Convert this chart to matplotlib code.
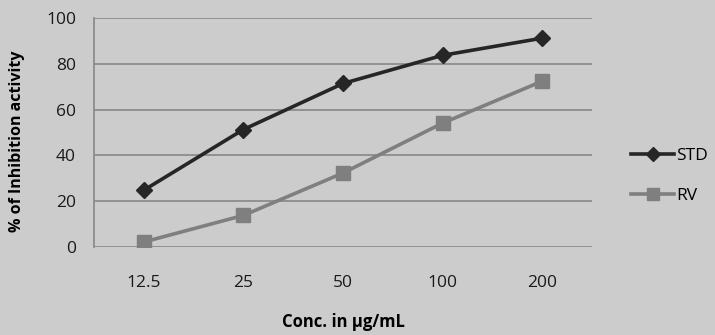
import matplotlib
matplotlib.use("Agg")
from matplotlib import pyplot as plt
from matplotlib.lines import Line2D

# data
conc = ["12.5", "25", "50", "100", "200"]
std_vals = [24.8, 51.3, 71.4, 83.7, 91.2]
rv_vals = [2.2, 13.8, 32.3, 54.1, 72.4]

bg = "#cccccc"
plt.rcParams['font.family'] = ['Open Sans', 'DejaVu Sans']

fig = plt.figure(figsize=(7.15, 3.35), dpi=100, facecolor=bg)
ax = fig.add_axes([94 / 715, 1 - 247 / 335, (592 - 94) / 715, (247 - 18) / 335])
ax.set_facecolor(bg)

x = range(len(conc))
ax.plot(x, std_vals, color="#262626", lw=2.6, marker="D", ms=8, mfc="#262626", mec="#262626", zorder=3)
ax.plot(x, rv_vals, color="#7f7f7f", lw=2.6, marker="s", ms=10, mfc="#7f7f7f", mec="#7f7f7f", zorder=3)

ax.set_xlim(-0.5, len(conc) - 0.5)
ax.set_ylim(0, 100)
ax.set_yticks([0, 20, 40, 60, 80, 100])
ax.set_xticks(list(x))
ax.set_xticklabels(conc)
ax.yaxis.grid(True, color="#8c8c8c", lw=1.3)
ax.set_axisbelow(True)
ax.tick_params(length=0, labelsize=12.5, colors="#1a1a1a")
ax.tick_params(axis="x", pad=20)
ax.tick_params(axis="y", pad=13)
for s in ["top", "right", "bottom"]:
    ax.spines[s].set_visible(False)
ax.spines["left"].set_color("#8c8c8c")
ax.spines["left"].set_linewidth(1.3)

ax.set_xlabel("Conc. in µg/mL", fontsize=12, fontweight="bold")
ax.xaxis.set_label_coords(0.5, -(322 - 247) / 229, transform=ax.transAxes)
ax.xaxis.label.set_va("center")
ax.set_ylabel("% of Inhibition activity", fontsize=11.5, fontweight="bold")
ax.yaxis.set_label_coords(-(94 - 17) / 498, (247 - 141) / 229, transform=ax.transAxes)
ax.yaxis.label.set_va("center")

handles = [
    Line2D([], [], color="#262626", lw=2.6, marker="D", ms=7),
    Line2D([], [], color="#7f7f7f", lw=2.6, marker="s", ms=9),
]
fig.legend(handles, ["STD", "RV"], loc="center left", bbox_to_anchor=(631 / 715, 1 - 176 / 335),
           frameon=False, fontsize=12.5, handlelength=2.5, handletextpad=0.1, labelspacing=1.4,
           borderpad=0, borderaxespad=0)

fig.savefig("out.png", dpi=100, facecolor=bg)
